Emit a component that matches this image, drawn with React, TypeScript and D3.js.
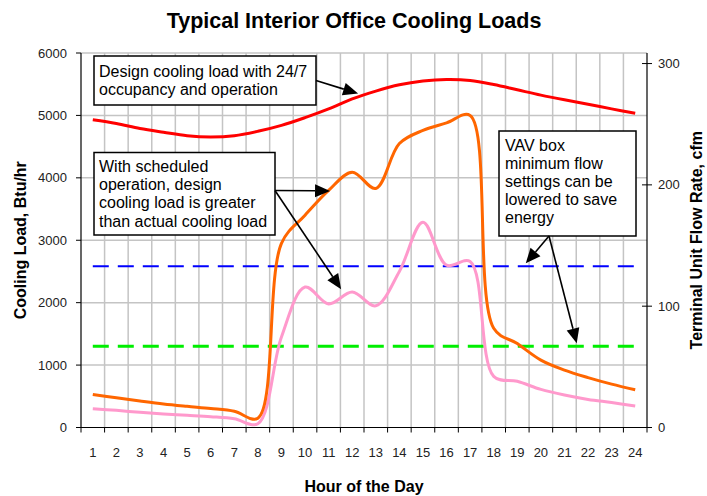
import React from 'react';
import * as d3 from 'd3';

const hours = [1, 2, 3, 4, 5, 6, 7, 8, 9, 10, 11, 12, 13, 14, 15, 16, 17, 18, 19, 20, 21, 22, 23, 24];
// Design cooling load, 24/7 occupancy (Btu/hr)
const design247 = [4930, 4870, 4790, 4730, 4675, 4655, 4675, 4745, 4840, 4965, 5105, 5265, 5390, 5490, 5550, 5575, 5560, 5495, 5410, 5325, 5250, 5180, 5105, 5035];
// Design cooling load with scheduled operation (Btu/hr)
const scheduledDesign = [530, 475, 425, 378, 340, 305, 260, 150, 2950, 3400, 3800, 4090, 3830, 4550, 4760, 4880, 5000, 1590, 1345, 1080, 920, 800, 695, 605];
// Actual cooling load (Btu/hr)
const actualLoad = [301, 275, 243, 216, 195, 173, 141, 60, 1450, 2250, 1980, 2170, 1950, 2500, 3290, 2600, 2660, 820, 740, 610, 520, 450, 400, 345];
// VAV box minimum flow settings (cfm): current and lowered
const minFlowCurrent = 133;
const minFlowLowered = 67;

const leftTicks = [0, 1000, 2000, 3000, 4000, 5000, 6000];
const rightTicks = [0, 100, 200, 300];

const FONT = '"Liberation Sans", Arial, Helvetica, sans-serif';

function Arrow({ x1, y1, x2, y2 }: { x1: number; y1: number; x2: number; y2: number }) {
  const dx = x2 - x1, dy = y2 - y1;
  const len = Math.sqrt(dx * dx + dy * dy);
  const ux = dx / len, uy = dy / len;
  const hl = 15, hw = 6.5;
  const bx = x2 - ux * hl, by = y2 - uy * hl;
  const px = -uy, py = ux;
  return (
    <g>
      <line x1={x1} y1={y1} x2={bx} y2={by} stroke="#000" strokeWidth={1.6} />
      <polygon
        points={`${x2},${y2} ${bx + px * hw},${by + py * hw} ${bx - px * hw},${by - py * hw}`}
        fill="#000"
      />
    </g>
  );
}

export default function App() {
  const W = 707, H = 496;
  const left = 81, right = 647, top = 53, bottom = 427.5;

  const x = d3.scaleBand<number>().domain(hours).range([left, right]).padding(0);
  const bw = x.bandwidth();
  const xc = (h: number) => (x(h) as number) + bw / 2;
  const xf = (h: number) => left + (h - 0.5) * bw; // fractional hour position
  const yL = d3.scaleLinear().domain([0, 6000]).range([bottom, top]);
  const yR = d3.scaleLinear().domain([0, 308.7]).range([bottom, top]);

  const line = d3
    .line<number>()
    .x((_, i) => xc(hours[i]))
    .y((d) => yL(d))
    .curve(d3.curveCatmullRom.alpha(0.5));

  const boundaries = d3.range(0, hours.length + 1).map((k) => left + k * bw);

  return (
    <svg width={W} height={H} style={{ position: 'absolute', left: 0, top: 0, background: '#fff' }} fontFamily={FONT}>
      <rect x={0} y={0} width={W} height={H} fill="#fff" />
      {/* grid */}
      {leftTicks.slice(1).map((t) => (
        <line key={'h' + t} x1={left} x2={right} y1={yL(t)} y2={yL(t)} stroke="#c4c4c4" strokeWidth={1.5} />
      ))}
      {boundaries.slice(1, -1).map((b, i) => (
        <line key={'v' + i} x1={b} x2={b} y1={top} y2={bottom} stroke="#c4c4c4" strokeWidth={1.5} />
      ))}

      {/* axes */}
      <line x1={left} x2={left} y1={top} y2={bottom} stroke="#000" strokeWidth={1.2} />
      <line x1={right} x2={right} y1={top} y2={bottom} stroke="#000" strokeWidth={1.2} />
      <line x1={left} x2={right} y1={bottom} y2={bottom} stroke="#000" strokeWidth={1.2} />
      {leftTicks.map((t) => (
        <g key={'lt' + t}>
          <line x1={left - 5} x2={left} y1={yL(t)} y2={yL(t)} stroke="#000" strokeWidth={1} />
          <text x={left - 14} y={yL(t)} dy="0.35em" textAnchor="end" fontSize={13} fill="#222">
            {t}
          </text>
        </g>
      ))}
      {rightTicks.map((t) => (
        <g key={'rt' + t}>
          <line x1={right - 5} x2={right + 5} y1={yR(t)} y2={yR(t)} stroke="#000" strokeWidth={1} />
          <text x={right + 11} y={yR(t)} dy="0.35em" textAnchor="start" fontSize={13} fill="#222">
            {t}
          </text>
        </g>
      ))}
      {boundaries.map((b, i) => (
        <line key={'xt' + i} x1={b} x2={b} y1={bottom} y2={bottom + 5} stroke="#000" strokeWidth={1} />
      ))}
      {hours.map((h) => (
        <text key={'xl' + h} x={xc(h)} y={457} textAnchor="middle" fontSize={13} fill="#222">
          {h}
        </text>
      ))}

      {/* min flow dashed lines (right axis) */}
      <line x1={xc(1)} x2={xc(24)} y1={yR(minFlowCurrent)} y2={yR(minFlowCurrent)} stroke="#0000ff" strokeWidth={2} strokeDasharray="16 9" />
      <line x1={xc(1)} x2={xc(24)} y1={yR(minFlowLowered)} y2={yR(minFlowLowered)} stroke="#00ee00" strokeWidth={3} strokeDasharray="16 9" />

      {/* series */}
      <path d={line(design247) || ''} fill="none" stroke="#ff0000" strokeWidth={3} />
      <path d={line(actualLoad) || ''} fill="none" stroke="#ff99cc" strokeWidth={3} />
      <path d={line(scheduledDesign) || ''} fill="none" stroke="#ff6600" strokeWidth={3} />

      {/* annotations */}
      <rect x={94} y={56} width={222} height={49} fill="#fff" stroke="#000" strokeWidth={1.5} />
      <text x={99} y={77} fontSize={16} fill="#000">Design cooling load with 24/7</text>
      <text x={99} y={95} fontSize={16} fill="#000">occupancy and operation</text>
      <Arrow x1={316} y1={80.5} x2={xf(12.25)} y2={yL(5350)} />

      <rect x={94} y={152.5} width={181} height={82.5} fill="#fff" stroke="#000" strokeWidth={1.5} />
      {['With scheduled', 'operation, design', 'cooling load is greater', 'than actual cooling load'].map((s, i) => (
        <text key={'b2' + i} x={99} y={172 + i * 18.2} fontSize={16} fill="#000">
          {s}
        </text>
      ))}
      <Arrow x1={275} y1={190.5} x2={xf(11.06)} y2={yL(3790)} />
      <Arrow x1={275} y1={190.5} x2={xf(11.53)} y2={yL(2216)} />

      <rect x={499} y={131} width={137} height={105} fill="#fff" stroke="#000" strokeWidth={1.5} />
      {['VAV box', 'minimum flow', 'settings can be', 'lowered to save', 'energy'].map((s, i) => (
        <text key={'b3' + i} x={505} y={151 + i * 18} fontSize={16} fill="#000">
          {s}
        </text>
      ))}
      <Arrow x1={549} y1={236} x2={xf(19.36)} y2={yR(135.3)} />
      <Arrow x1={549} y1={236} x2={xf(21.52)} y2={yR(69.4)} />

      {/* titles */}
      <text x={354} y={28} textAnchor="middle" fontSize={21.5} fontWeight="bold" fill="#000">
        Typical Interior Office Cooling Loads
      </text>
      <text x={(left + right) / 2} y={492} textAnchor="middle" fontSize={16} fontWeight="bold" fill="#000">
        Hour of the Day
      </text>
      <text
        transform={`translate(26, ${(top + bottom) / 2}) rotate(-90)`}
        textAnchor="middle"
        fontSize={16}
        fontWeight="bold"
        fill="#000"
      >
        Cooling Load, Btu/hr
      </text>
      <text
        transform={`translate(702, ${(top + bottom) / 2}) rotate(-90)`}
        textAnchor="middle"
        fontSize={16}
        fontWeight="bold"
        fill="#000"
      >
        Terminal Unit Flow Rate, cfm
      </text>
    </svg>
  );
}
